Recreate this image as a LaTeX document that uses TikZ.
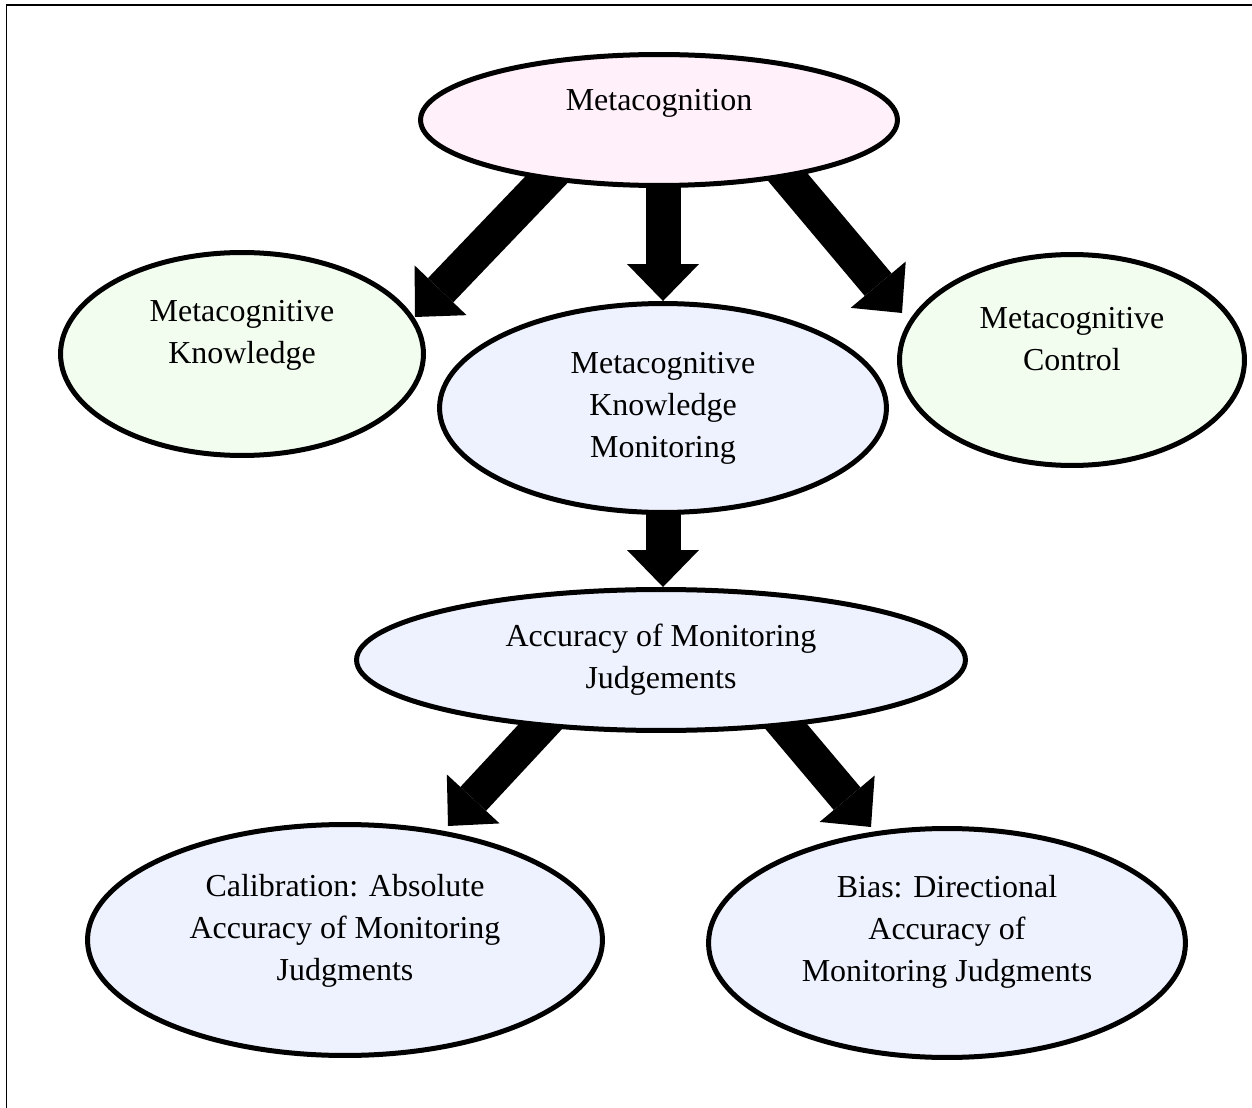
\documentclass[tikz,border=0pt]{standalone}
\usepackage{fontspec}
\setmainfont{Liberation Serif}
\usetikzlibrary{arrows.meta,shapes.geometric,backgrounds}
\definecolor{pinkbg}{RGB}{255,240,250}
\definecolor{greenbg}{RGB}{242,253,240}
\definecolor{bluebg}{RGB}{238,242,254}
\tikzset{
  bub/.style={ellipse,draw,line width=0.1cm,inner sep=0pt},
  txt/.style={align=center,font=\fontsize{18.2}{23.9}\selectfont},
  fat/.style={line width=0.7cm,-{Triangle[length=0.74cm,width=1.44cm,line width=0pt]},shorten <=-0.3cm}
}

\begin{document}
\begin{tikzpicture}[x=0.02cm,y=-0.02cm]
\useasboundingbox (0,0) rectangle (1252,1108);
\draw[line width=0.04cm] (6.5,1108) -- (6.5,5.5) -- (1252,5.5);

\node[bub,fill=pinkbg,minimum width=9.54cm,minimum height=2.62cm,
  label={[txt,name=metaT,yshift=0.34cm]center:Metacognition}] (meta) at (659,120) {};
\node[bub,fill=greenbg,minimum width=7.26cm,minimum height=4.06cm,
  label={[txt,name=knowT,yshift=0.38cm]center:Metacognitive\\Knowledge}] (know) at (242,354) {};
\node[bub,fill=greenbg,minimum width=6.9cm,minimum height=4.22cm,
  label={[txt,name=ctrlT,yshift=0.42cm]center:Metacognitive\\Control}] (ctrl) at (1072,360) {};
\node[bub,fill=bluebg,minimum width=8.94cm,minimum height=4.18cm,
  label={[txt,name=monT]center:Metacognitive\\Knowledge\\Monitoring}] (mon) at (663,408) {};
\node[bub,fill=bluebg,minimum width=12.18cm,minimum height=2.82cm,
  label={[txt,name=accT]center:Accuracy of Monitoring\\Judgements}] (acc) at (661,660) {};
\node[bub,fill=bluebg,minimum width=10.3cm,minimum height=4.62cm,
  label={[txt,name=calT,yshift=0.18cm]center:Calibration: Absolute\\Accuracy of Monitoring\\Judgments}] (cal) at (345,940) {};
\node[bub,fill=bluebg,minimum width=9.54cm,minimum height=4.58cm,
  label={[txt,name=biasT,yshift=0.22cm]center:Bias: Directional\\Accuracy of\\Monitoring Judgments}] (bias) at (947,943) {};

% block arrows behind the ellipses
\begin{scope}[on background layer]
\draw[fat] (meta.208) -- ([shift={(173,-37)}]know.center);
\draw[fat] (mon.north |- meta.south) -- (mon.north);
\draw[fat] (meta.336) -- ([shift={(-170,-47)}]ctrl.center);
\draw[fat] (mon.south) -- (mon.south |- acc.north);
\draw[fat] (acc.209) -- ([shift={(103,-114)}]cal.center);
\draw[fat] (acc.332) -- ([shift={(-76,-116)}]bias.center);
\end{scope}
\end{tikzpicture}
\end{document}
